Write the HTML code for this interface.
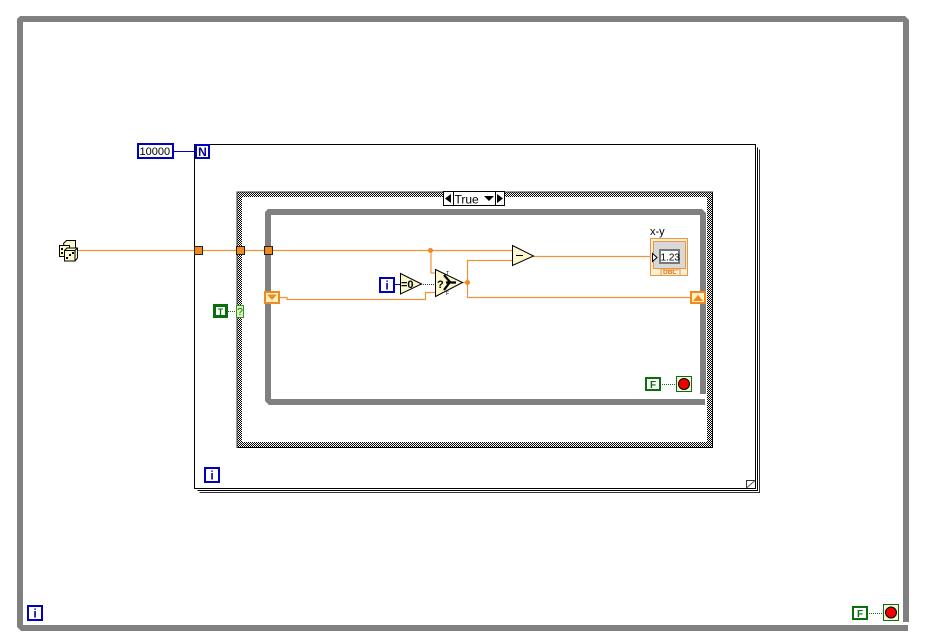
<!DOCTYPE html>
<html><head><meta charset="utf-8"><style>html,body{margin:0;padding:0;background:#fff;width:926px;height:641px;overflow:hidden}svg{display:block}text{font-family:"Liberation Sans",sans-serif}</style></head><body>
<svg width="926" height="641" viewBox="0 0 926 641" xmlns="http://www.w3.org/2000/svg">
<defs><pattern id="h" width="2" height="2" patternUnits="userSpaceOnUse"><rect width="2" height="2" fill="#fff"/><rect width="1" height="1" fill="#000"/><rect x="1" y="1" width="1" height="1" fill="#000"/></pattern></defs>
<!-- outer while -->
<path d="M20 16H905L909 20V622H903V22H23V625H908V631H21L17 627V19Z" fill="#808080"/>
<!-- for loop -->
<g fill="none" stroke="#000" shape-rendering="crispEdges">
<path d="M197.500 490.500H757.500V147.500"/>
<path d="M199.500 492.500H759.500V149.500" stroke="#333"/>
<rect x="194.500" y="144.500" width="561" height="344" fill="#fff"/>
</g>
<path d="M746.500 488L746.500 480.500H755" fill="#fff" stroke="#333"/>
<path d="M746.500 488L755 480.500" fill="none" stroke="#555"/>
<!-- case -->
<path d="M237 192H713V448H237ZM242 197V442H707V197Z" fill="url(#h)" fill-rule="evenodd"/>
<path d="M712.500 192V447.500H237" fill="none" stroke="#000"/>
<path d="M237 448V192H713" fill="none" stroke="#333"/>
<rect x="242" y="197" width="465" height="245" fill="#fff"/>
<!-- selector -->
<rect x="443.500" y="191.500" width="61" height="14" fill="#fff" stroke="#000"/>
<path d="M453.500 192V205M495.500 192V205" stroke="#000"/>
<path d="M451 194V203L445 198.500Z M497 194V203L503 198.500Z M484 196H494L489 201Z" fill="#000"/>
<text x="454.500" y="203.500" font-size="12">True</text>
<!-- inner while -->
<path d="M268 209H702L706 213V394H700V215H271V399H705V405H269L265 401V212Z" fill="#808080"/>
<!-- wires -->
<g fill="none" stroke="#ee9440" stroke-width="1.200">
<path d="M78 250.500H512"/>
<path d="M431 250V273H436"/>
<path d="M279 297.500H287V299.500H425.500V292.500H436"/>
<path d="M462 282.500H467.500V260.500H512"/>
<path d="M467.500 282V297.500H691"/>
<path d="M533 256.500H653"/>
</g>
<circle cx="430.500" cy="250.500" r="2.500" fill="#f08a1e"/>
<circle cx="467.500" cy="282.500" r="2.500" fill="#f08a1e"/>
<!-- tunnels -->
<g fill="#f08a1e" stroke="#222" shape-rendering="crispEdges">
<rect x="194.500" y="246.500" width="8" height="8"/>
<rect x="236.500" y="246.500" width="8" height="8"/>
<rect x="264.500" y="246.500" width="8" height="8"/>
</g>
<!-- shift registers -->
<rect x="265" y="292" width="14" height="11" fill="#fff0c0" stroke="#f08a1e" stroke-width="2"/>
<path d="M267 294.500H277L272 300Z" fill="#f08a1e"/>
<rect x="691" y="292" width="14" height="11" fill="#fff0c0" stroke="#f08a1e" stroke-width="2"/>
<path d="M693 301H703L698 295Z" fill="#f08a1e"/>
<!-- blue terminals -->
<g fill="#fff" stroke="#0000c0" stroke-width="2" shape-rendering="crispEdges">
<rect x="138" y="144" width="35" height="14"/>
<rect x="196" y="145" width="13" height="13"/>
<rect x="380" y="278" width="14" height="14"/>
<rect x="205" y="468" width="14" height="14"/>
<rect x="28" y="606" width="14" height="14"/>
</g>
<path d="M173 151.500H195M394 284.500H400" stroke="#0000c0" fill="none"/>
<text x="139.500" y="155" font-size="11">10000</text>
<g font-weight="bold" fill="#0000a0" text-anchor="middle">
<text x="202.500" y="156" font-size="12">N</text>
<text x="387" y="289.500" font-size="12">i</text>
<text x="212" y="479.500" font-size="12">i</text>
<text x="35" y="617.500" font-size="12">i</text>
</g>
<!-- prims -->
<g fill="#fdf8cc" stroke="#000" stroke-linejoin="miter">
<path d="M512.500 245.500L533.500 256L512.500 265.500Z"/>
<path d="M400.500 273.500L421.500 284L400.500 294Z"/>
<path d="M435.500 269.500L462.500 282.500L435.500 296.500Z"/>
</g>
<path d="M516 255.500H523" stroke="#000" fill="none"/>
<text x="401" y="288" font-size="11" font-weight="bold">=0</text>
<path d="M421 284.500H435" stroke="#333" stroke-dasharray="1 1" fill="none"/>
<path d="M444 275L450 282L444 290M446 282.500H456" stroke="#000" stroke-width="2.200" fill="none"/>
<text x="437" y="288" font-size="11" font-weight="bold">?</text>
<text x="446" y="275" font-size="5">T</text><text x="446" y="295" font-size="5">F</text>
<!-- indicator -->
<text x="650" y="235" font-size="11">x-y</text>
<rect x="650.500" y="238.500" width="37" height="37" fill="#fdf0d8" stroke="#ee9440"/>
<rect x="653.500" y="241.500" width="32" height="27" fill="#d8d8d8" stroke="#ee9440"/>
<path d="M661 275V269H664V270H677V269H680V275" fill="#fdf0d8" stroke="#ee9440"/>
<rect x="660" y="250" width="19" height="13" fill="#fff" stroke="#777" stroke-width="2"/>
<path d="M652.500 253.500L657 257.500L652.500 261.500Z" fill="#fff" stroke="#000"/>
<text x="660.500" y="260.500" font-size="10">1.23</text>
<text x="663" y="274" font-size="6.500" font-weight="bold" fill="#d87a1a">DBL</text>
<!-- T/F -->
<rect x="213" y="304" width="15" height="14" fill="#0a6e0a"/>
<rect x="216" y="307" width="9" height="8" fill="#fff"/>
<text x="220.500" y="315" font-size="9" font-weight="bold" fill="#0a6e0a" text-anchor="middle">T</text>
<path d="M228 311.500H236" stroke="#0a6e0a" stroke-dasharray="1 1" fill="none"/>
<rect x="236.500" y="305.500" width="7" height="12" fill="#d8f0b0" stroke="#3a8a3a"/>
<text x="240" y="315" font-size="10" fill="#0a6e0a" text-anchor="middle">?</text>
<g fill="#fff" stroke="#0a6e0a" stroke-width="2" shape-rendering="crispEdges">
<rect x="646" y="378" width="14" height="12"/>
<rect x="853" y="607" width="14" height="12"/>
</g>
<text x="653" y="388" font-size="10" font-weight="bold" fill="#0a6e0a" text-anchor="middle">F</text>
<text x="860" y="617" font-size="10" font-weight="bold" fill="#0a6e0a" text-anchor="middle">F</text>
<path d="M660 384.500H676M867 613.500H883" stroke="#0a6e0a" stroke-dasharray="1 1" fill="none"/>
<g stroke="#0a6e0a">
<rect x="676.500" y="376.500" width="15" height="15" fill="#f4f4d8"/>
<rect x="883.500" y="604.500" width="15" height="16" fill="#f4f4d8"/>
</g>
<g fill="#f00000" stroke="#000">
<circle cx="684" cy="384" r="5.500"/>
<circle cx="891" cy="612.500" r="5.500"/>
</g>
<!-- dice -->
<g stroke="#000" fill="#fdf8cc">
<path d="M63.500 243.500L66.500 240.500H75.500V250H65Z"/>
<rect x="59.500" y="245.500" width="10" height="11"/>
<path d="M64.500 250.500L67 248H77.500V258L75 261H64.500Z"/>
<path d="M64.500 250.500H75V261M75 250.500L77.500 248" fill="none"/>
</g>
<g fill="#000"><rect x="66" y="257" width="2" height="2"/><rect x="69" y="254" width="2" height="2"/><rect x="72" y="252" width="2" height="2"/><rect x="61" y="248" width="2" height="2"/><rect x="61" y="252" width="2" height="2"/></g>
</svg>
</body></html>
